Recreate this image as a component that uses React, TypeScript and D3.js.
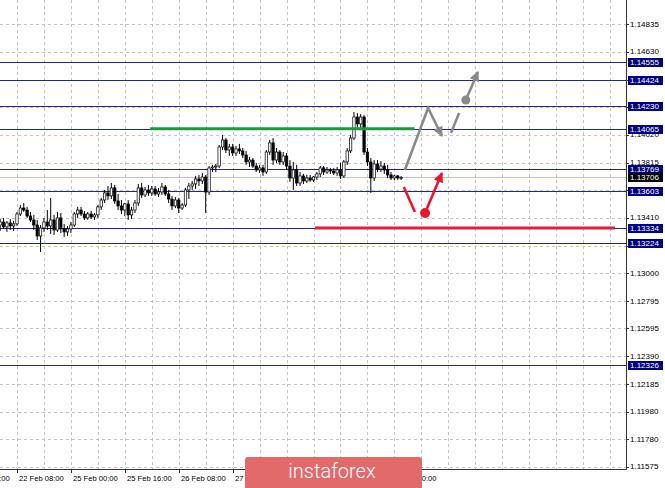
import * as d3 from 'd3';

// price axis ticks (as printed on the right scale)
const priceTicks = [
  1.14835, 1.1463, 1.14425, 1.14225, 1.1402, 1.13815, 1.1361, 1.1341, 1.13205,
  1.13, 1.12795, 1.12595, 1.1239, 1.12185, 1.1198, 1.1178, 1.11575,
];

// horizontal levels with navy price boxes
const levelPrices = [1.14555, 1.14424, 1.1423, 1.14065, 1.13769, 1.13603, 1.13334, 1.13224, 1.12326];
const bidPrice = 1.13706;

// time axis, one label every 16 hourly bars
const timeLabels = ['21 Feb 16:00', '22 Feb 08:00', '25 Feb 00:00', '25 Feb 16:00', '26 Feb 08:00', '27 Feb 00:00', '27 Feb 16:00', '28 Feb 08:00', '1 Mar 00:00'];
const timeLabelBars = [-11, 5, 21, 37, 53, 69, 85, 101, 117];

// hourly candles: open, high, low, close
const candles: [number, number, number, number][] = [
  [1.13356, 1.134, 1.13312, 1.13378], [1.13378, 1.13408, 1.13327, 1.13342], [1.13342, 1.13386, 1.13305, 1.13371],
  [1.13371, 1.134, 1.13319, 1.13349], [1.13349, 1.13386, 1.13312, 1.13364], [1.13364, 1.13452, 1.13349, 1.13437],
  [1.13437, 1.13503, 1.13422, 1.13481], [1.13481, 1.13518, 1.13452, 1.13466], [1.13466, 1.13489, 1.13408, 1.13422],
  [1.13422, 1.13452, 1.13378, 1.13393], [1.13393, 1.1343, 1.13319, 1.13356], [1.13356, 1.13393, 1.13245, 1.13275],
  [1.13275, 1.13356, 1.13157, 1.13334], [1.13334, 1.13408, 1.13305, 1.13378], [1.13378, 1.13466, 1.13319, 1.13349],
  [1.13349, 1.13555, 1.1329, 1.13393], [1.13393, 1.1343, 1.13283, 1.13319], [1.13319, 1.13452, 1.13305, 1.13408],
  [1.13408, 1.13444, 1.13297, 1.13327], [1.13327, 1.13364, 1.13268, 1.13305], [1.13305, 1.13349, 1.13275, 1.13327],
  [1.13327, 1.13378, 1.13297, 1.13356], [1.13356, 1.13452, 1.13342, 1.13437], [1.13437, 1.13489, 1.13408, 1.13466],
  [1.13466, 1.13489, 1.13422, 1.13437], [1.13437, 1.13459, 1.13393, 1.13408], [1.13408, 1.13452, 1.13393, 1.13437],
  [1.13437, 1.13459, 1.134, 1.13415], [1.13415, 1.13444, 1.13393, 1.1343], [1.1343, 1.13503, 1.13408, 1.13489],
  [1.13489, 1.13555, 1.13466, 1.1354], [1.1354, 1.13614, 1.13518, 1.13592], [1.13592, 1.13643, 1.1354, 1.1357],
  [1.1357, 1.13665, 1.13547, 1.13629], [1.13629, 1.13651, 1.13511, 1.13533], [1.13533, 1.13584, 1.13466, 1.13496],
  [1.13496, 1.1354, 1.13437, 1.13466], [1.13466, 1.13518, 1.13422, 1.13511], [1.13511, 1.1354, 1.13393, 1.1343],
  [1.1343, 1.13489, 1.134, 1.13466], [1.13466, 1.1354, 1.13444, 1.13518], [1.13518, 1.13658, 1.13496, 1.13629],
  [1.13629, 1.13665, 1.13555, 1.13577], [1.13577, 1.13636, 1.13562, 1.13614], [1.13614, 1.13651, 1.1357, 1.13592],
  [1.13592, 1.13643, 1.1357, 1.13621], [1.13621, 1.13643, 1.1357, 1.13584], [1.13584, 1.13629, 1.13562, 1.13599],
  [1.13599, 1.13665, 1.13577, 1.13636], [1.13636, 1.13651, 1.1357, 1.13584], [1.13584, 1.13614, 1.13518, 1.13547],
  [1.13547, 1.1357, 1.13466, 1.13496], [1.13496, 1.13562, 1.13481, 1.1354], [1.1354, 1.13555, 1.13444, 1.13481],
  [1.13481, 1.13518, 1.13466, 1.13503], [1.13503, 1.13629, 1.13489, 1.13614], [1.13614, 1.13665, 1.13547, 1.13643],
  [1.13643, 1.1368, 1.13614, 1.13658], [1.13658, 1.13717, 1.13621, 1.13695], [1.13695, 1.13724, 1.13643, 1.1368],
  [1.1368, 1.13739, 1.13658, 1.13709], [1.13709, 1.13724, 1.13444, 1.13599], [1.13599, 1.1379, 1.13577, 1.13776],
  [1.13776, 1.13798, 1.13746, 1.13783], [1.13783, 1.13805, 1.13746, 1.1379], [1.1379, 1.13945, 1.13776, 1.1393],
  [1.1393, 1.14018, 1.13908, 1.13982], [1.13982, 1.13996, 1.13886, 1.13908], [1.13908, 1.13953, 1.13864, 1.1393],
  [1.1393, 1.13953, 1.13864, 1.13886], [1.13886, 1.13938, 1.13864, 1.13916], [1.13916, 1.13953, 1.13879, 1.13901],
  [1.13901, 1.13923, 1.13849, 1.13871], [1.13871, 1.13901, 1.13798, 1.1382], [1.1382, 1.13857, 1.13783, 1.13834],
  [1.13834, 1.13849, 1.13776, 1.1379], [1.1379, 1.13813, 1.13746, 1.13761], [1.13761, 1.13798, 1.13739, 1.13776],
  [1.13776, 1.13798, 1.13717, 1.13746], [1.13746, 1.13908, 1.13732, 1.13893], [1.13893, 1.13982, 1.13871, 1.1396],
  [1.1396, 1.13996, 1.13798, 1.13834], [1.13834, 1.13923, 1.13813, 1.13893], [1.13893, 1.13908, 1.13798, 1.1382],
  [1.1382, 1.13893, 1.13798, 1.13864], [1.13864, 1.13886, 1.13761, 1.1379], [1.1379, 1.13834, 1.13673, 1.13702],
  [1.13702, 1.1382, 1.13614, 1.13761], [1.13761, 1.13798, 1.13643, 1.13665], [1.13665, 1.13746, 1.13643, 1.13717],
  [1.13717, 1.13732, 1.13658, 1.1368], [1.1368, 1.13724, 1.13665, 1.13702], [1.13702, 1.13724, 1.13673, 1.13687],
  [1.13687, 1.13717, 1.13673, 1.13709], [1.13709, 1.13746, 1.13687, 1.13732], [1.13732, 1.1379, 1.13709, 1.13776],
  [1.13776, 1.1379, 1.13724, 1.13746], [1.13746, 1.13783, 1.13732, 1.13761], [1.13761, 1.13776, 1.13732, 1.13754],
  [1.13754, 1.13776, 1.13724, 1.13739], [1.13739, 1.13783, 1.13717, 1.13761], [1.13761, 1.13813, 1.13695, 1.13717],
  [1.13717, 1.13834, 1.13702, 1.1382], [1.1382, 1.13923, 1.13798, 1.13901], [1.13901, 1.14018, 1.13886, 1.13996],
  [1.13996, 1.14187, 1.13982, 1.14151], [1.14151, 1.1418, 1.1407, 1.141], [1.141, 1.14173, 1.1407, 1.14151],
  [1.14151, 1.14165, 1.13871, 1.13893], [1.13893, 1.13923, 1.1379, 1.1382], [1.1382, 1.13849, 1.13592, 1.13702],
  [1.13702, 1.13834, 1.1368, 1.13805], [1.13805, 1.13834, 1.13746, 1.13768], [1.13768, 1.13827, 1.13746, 1.1379],
  [1.1379, 1.13813, 1.13732, 1.13761], [1.13761, 1.13798, 1.13702, 1.13724], [1.13724, 1.13746, 1.13687, 1.13702],
  [1.13702, 1.13724, 1.13687, 1.13717], [1.13717, 1.13724, 1.13687, 1.13702], [1.13702, 1.13717, 1.13687, 1.13706],
];

// drawn annotations, in bar index / price
const resistanceLine = { price: 1.14065, fromBar: 44.5, toBar: 123 };
const supportLine = { price: 1.13334, fromBar: 93.4, toBar: 182.5 };
const grayZigzag: [number, number][] = [[120.1, 1.13761], [127, 1.14217], [131.1, 1.14011]];
const grayStroke: [number, number][] = [[133.8, 1.14033], [136.2, 1.1418]];
const grayArrow: [number, number][] = [[138.2, 1.14276], [141.8, 1.14482]];
const redStroke: [number, number][] = [[119.8, 1.13636], [123.1, 1.13452]];
const redArrow: [number, number][] = [[126.1, 1.13444], [131.1, 1.13739]];

const W = 665;
const H = 488;
const plotRight = 626;
const plotBottom = 469;
const font = '"Liberation Sans", Arial, sans-serif';

export default function App() {
  const x = d3.scaleLinear().domain([5, 117]).range([17, 394.4]);
  const y = d3.scaleLinear().domain([1.1156, 1.15012]).range([plotBottom, 0]);
  const line = d3.line<[number, number]>().x((d) => x(d[0])).y((d) => y(d[1]));

  const gridBars = d3.range(-3, 200, 8).filter((b) => x(b) >= 0 && x(b) < plotRight);
  const grayC = '#8a8a8a';
  const redC = '#e8192c';

  return (
    <svg width={W} height={H} style={{ position: 'absolute', left: 0, top: 0 }} fontFamily={font}>
      <defs>
        <marker id="ag" viewBox="0 0 10 10" refX="9" refY="5" markerWidth="11" markerHeight="10" markerUnits="userSpaceOnUse" orient="auto">
          <path d="M0,0L10,5L0,10z" fill={grayC} />
        </marker>
        <marker id="ar" viewBox="0 0 10 10" refX="9" refY="5" markerWidth="11" markerHeight="10" markerUnits="userSpaceOnUse" orient="auto">
          <path d="M0,0L10,5L0,10z" fill={redC} />
        </marker>
        <clipPath id="plot">
          <rect x={0} y={0} width={plotRight} height={plotBottom} />
        </clipPath>
      </defs>
      <rect width={W} height={H} fill="#fff" />

      {/* grid */}
      <g stroke="#c4c4c4" strokeDasharray="3,3" strokeWidth={1}>
        {priceTicks.map((t) => (
          <line key={t} x1={0} x2={plotRight} y1={Math.round(y(t)) + 0.5} y2={Math.round(y(t)) + 0.5} />
        ))}
        {gridBars.map((b) => (
          <line key={b} x1={Math.round(x(b)) + 0.5} x2={Math.round(x(b)) + 0.5} y1={0} y2={plotBottom} />
        ))}
      </g>

      {/* levels */}
      <g strokeWidth={1}>
        {levelPrices.map((p) => (
          <line key={p} x1={0} x2={plotRight} y1={Math.round(y(p)) + 0.5} y2={Math.round(y(p)) + 0.5} stroke="#24249a" />
        ))}
        <line x1={0} x2={plotRight} y1={Math.round(y(bidPrice)) + 0.5} y2={Math.round(y(bidPrice)) + 0.5} stroke="#c0c0c0" />
      </g>

      {/* candles */}
      <g clipPath="url(#plot)">
        {candles.map(([o, h, l, c], i) => {
          const cx = x(i);
          const top = y(Math.max(o, c));
          const bh = Math.max(1, Math.abs(y(o) - y(c)));
          const bull = c >= o;
          return (
            <g key={i}>
              <line x1={cx} x2={cx} y1={y(h)} y2={y(l)} stroke="#000" strokeWidth={1} />
              <rect x={cx - 1.2} y={top} width={2.4} height={bh} fill={bull ? '#fff' : '#000'} stroke="#000" strokeWidth={0.7} />
            </g>
          );
        })}
      </g>

      {/* drawn annotations */}
      <line x1={x(resistanceLine.fromBar)} x2={x(resistanceLine.toBar)} y1={y(resistanceLine.price)} y2={y(resistanceLine.price)} stroke="#1f9a3a" strokeWidth={3} />
      <line x1={x(supportLine.fromBar)} x2={x(supportLine.toBar)} y1={y(supportLine.price)} y2={y(supportLine.price)} stroke="#e31b3d" strokeWidth={3} />
      <path d={line(grayZigzag) ?? ''} fill="none" stroke={grayC} strokeWidth={2.6} strokeLinejoin="miter" markerEnd="url(#ag)" />
      <path d={line(grayStroke) ?? ''} fill="none" stroke={grayC} strokeWidth={2.6} />
      <path d={line(grayArrow) ?? ''} fill="none" stroke={grayC} strokeWidth={2.6} markerEnd="url(#ag)" />
      <circle cx={x(grayArrow[0][0])} cy={y(grayArrow[0][1])} r={4.5} fill={grayC} />
      <path d={line(redStroke) ?? ''} fill="none" stroke={redC} strokeWidth={2.6} />
      <path d={line(redArrow) ?? ''} fill="none" stroke={redC} strokeWidth={2.6} markerEnd="url(#ar)" />
      <circle cx={x(redArrow[0][0])} cy={y(redArrow[0][1])} r={5} fill={redC} />

      {/* frame */}
      <line x1={plotRight + 0.5} x2={plotRight + 0.5} y1={0} y2={plotBottom + 0.5} stroke="#333" />
      <line x1={0} x2={plotRight + 0.5} y1={plotBottom + 0.5} y2={plotBottom + 0.5} stroke="#333" />

      {/* price axis */}
      <g fontSize={8} fill="#000">
        {priceTicks.map((t) => (
          <g key={t}>
            <line x1={plotRight} x2={plotRight + 3} y1={Math.round(y(t)) + 0.5} y2={Math.round(y(t)) + 0.5} stroke="#333" />
            <text x={630} y={y(t)} dominantBaseline="central">{t.toFixed(5)}</text>
          </g>
        ))}
      </g>
      <g fontSize={8}>
        {levelPrices.map((p) => (
          <g key={p}>
            <rect x={628} y={Math.round(y(p)) - 4} width={35} height={9} fill="#000080" />
            <text x={630} y={Math.round(y(p)) + 0.5} dominantBaseline="central" fill="#fff">{p.toFixed(5)}</text>
          </g>
        ))}
        <rect x={628} y={Math.round(y(bidPrice)) - 4} width={35} height={9} fill="#000" />
        <text x={630} y={Math.round(y(bidPrice)) + 0.5} dominantBaseline="central" fill="#fff">{bidPrice.toFixed(5)}</text>
      </g>

      {/* time axis */}
      <g fontSize={7.6} fill="#000">
        {timeLabels.map((lab, k) => {
          const tx = Math.round(x(timeLabelBars[k])) + 0.5;
          return (
            <g key={lab}>
              <line x1={tx} x2={tx} y1={plotBottom} y2={plotBottom + 4} stroke="#333" />
              <text x={tx + 1.5} y={481}>{lab}</text>
            </g>
          );
        })}
      </g>

      {/* logo */}
      <rect x={245} y={457} width={177} height={40} rx={3} fill="#e26a6a" />
      <text x={332} y={478} textAnchor="middle" fontFamily="Roboto, 'Open Sans', sans-serif" fontWeight={300} fontSize={20} fill="#fff">
        instaforex
      </text>
    </svg>
  );
}
